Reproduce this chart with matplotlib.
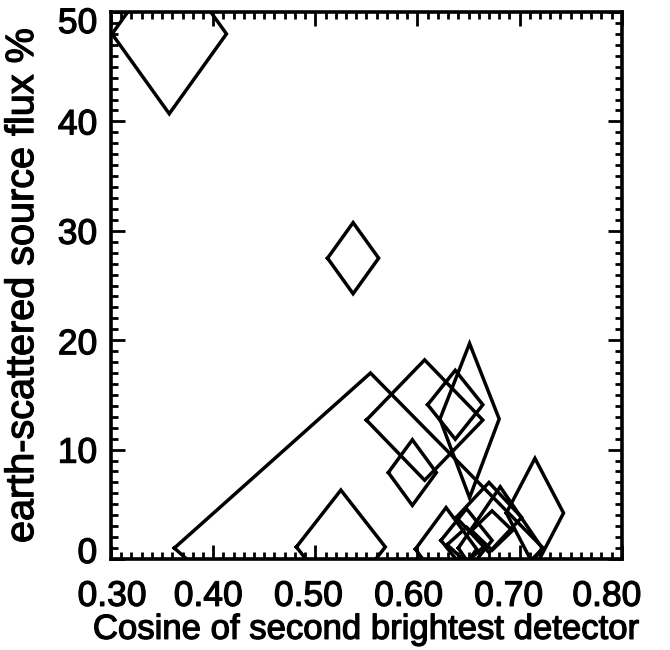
import matplotlib
matplotlib.use('Agg')
import matplotlib.pyplot as plt
import matplotlib.transforms as mtransforms
import matplotlib.patheffects as pe
from matplotlib.ticker import MultipleLocator
import numpy as np

plt.rcParams['font.family'] = ['Liberation Sans', 'DejaVu Sans']

# Data: centre, and error extents (left/right in x, down/up in y)
cosine = np.array([0.357, 0.537, 0.554, 0.607, 0.595, 0.637, 0.651, 0.715,
                   0.628, 0.525, 0.670, 0.681, 0.673, 0.648, 0.648])
flux = np.array([48.0, 27.5, 1.0, 12.7, 7.9, 14.1, 12.8, 4.2,
                 0.9, 1.1, 3.8, 1.0, 2.6, 1.7, 1.3])
cos_err_lo = np.array([0.056, 0.025, 0.192, 0.057, 0.0235, 0.027, 0.029, 0.028,
                       0.030, 0.0435, 0.032, 0.041, 0.020, 0.025, 0.019])
cos_err_hi = np.array([0.056, 0.025, 0.169, 0.057, 0.0235, 0.027, 0.029, 0.028,
                       0.030, 0.0435, 0.032, 0.041, 0.020, 0.025, 0.019])
flux_err_lo = np.array([7.3, 3.25, 16.0, 5.5, 3.0, 3.15, 7.2, 5.0,
                        3.8, 5.2, 3.2, 5.6, 1.8, 2.9, 1.6])
flux_err_hi = np.array([7.3, 3.25, 16.0, 5.5, 3.0, 3.15, 6.9, 5.0,
                        3.8, 5.2, 3.2, 5.6, 1.8, 2.9, 1.6])

x_ticks = [0.30, 0.40, 0.50, 0.60, 0.70, 0.80]
y_ticks = [0, 10, 20, 30, 40, 50]

fig = plt.figure(figsize=(6.7, 6.5), dpi=100)
ax = fig.add_axes([0.1657, 0.14, 0.7623, 0.8415])

for x, y, xl, xh, yl, yh in zip(cosine, flux, cos_err_lo, cos_err_hi,
                                flux_err_lo, flux_err_hi):
    ax.plot([x - xl, x, x + xh, x, x - xl],
            [y, y + yh, y, y - yl, y],
            color='black', lw=2.5, solid_joinstyle='miter')

ax.set_xlim(0.3, 0.8)
ax.set_ylim(0, 50)
ax.set_xticks(x_ticks)
ax.set_xticklabels(['%.2f' % v for v in x_ticks])
ax.set_yticks(y_ticks)
ax.set_yticklabels([str(v) for v in y_ticks])
ax.xaxis.set_minor_locator(MultipleLocator(0.01))
ax.yaxis.set_minor_locator(MultipleLocator(1))

ax.tick_params(which='both', direction='in', top=True, right=True,
               width=2.0, labelsize=25.5)
ax.tick_params(which='major', length=10)
ax.tick_params(which='minor', length=5)
ax.tick_params(axis='x', pad=15)
ax.tick_params(axis='y', pad=10)
for sp in ax.spines.values():
    sp.set_linewidth(2.6)

# nudge tick labels like in the original print
x_shift = [1, -5, -7, -9, -11, -15]
for lab, dx in zip(ax.get_xticklabels(), x_shift):
    lab.set_transform(lab.get_transform() +
                      mtransforms.ScaledTranslation(dx / 100, 0, fig.dpi_scale_trans))
y_shift = [9, 0, -1, 0, 0, -8]
for lab, dy in zip(ax.get_yticklabels(), y_shift):
    lab.set_transform(lab.get_transform() +
                      mtransforms.ScaledTranslation(0, dy / 100, fig.dpi_scale_trans))

ax.set_xlabel('Cosine of second brightest detector', fontsize=25, labelpad=0)
ax.set_ylabel('earth-scattered source flux %', fontsize=28.5, labelpad=12)

# heavier strokes, like the scanned print
bold = [pe.withStroke(linewidth=0.9, foreground='black')]
for t in ax.get_xticklabels() + ax.get_yticklabels() + [ax.xaxis.label, ax.yaxis.label]:
    t.set_path_effects(bold)

fig.savefig('out.png', dpi=100)
